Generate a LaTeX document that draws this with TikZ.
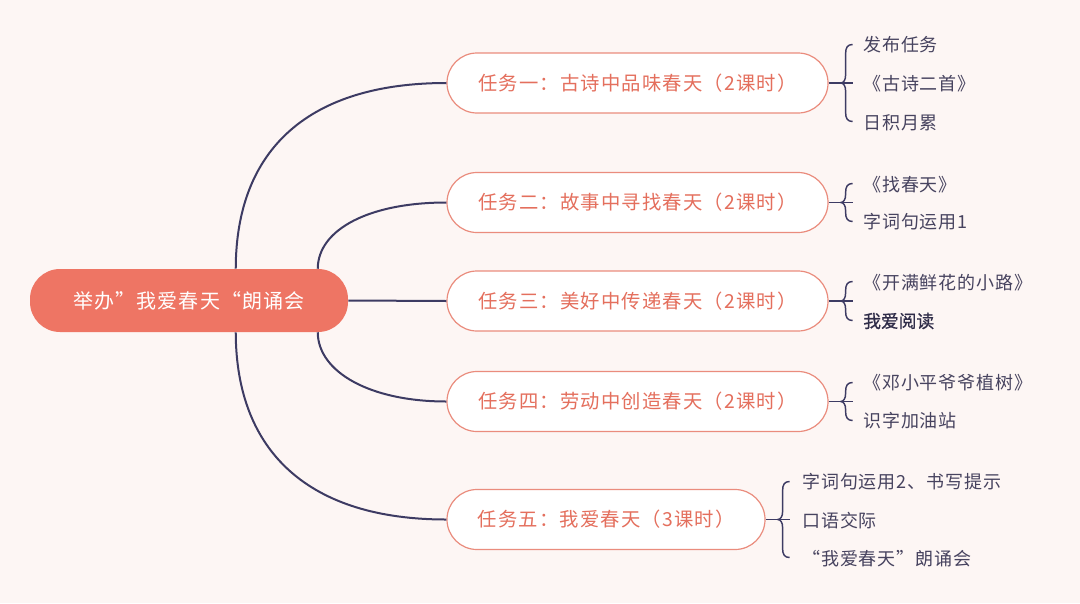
\documentclass[tikz,border=0pt]{standalone}
\usepackage{fontspec}
\usetikzlibrary{calc}
\newfontfamily\cjkroot[LetterSpace=6]{Noto Sans CJK SC}
\newfontfamily\cjktask[LetterSpace=6]{Noto Sans CJK SC}
\newfontfamily\cjkleaf[LetterSpace=5]{Noto Sans CJK SC}
\newfontfamily\cjkplain[FakeBold=0.8]{Noto Sans CJK SC}
\definecolor{bgc}{HTML}{FDF6F4}
\definecolor{rootc}{HTML}{EE7564}
\definecolor{taskborder}{HTML}{EA8C7D}
\definecolor{tasktext}{HTML}{E46F5D}
\definecolor{linkc}{HTML}{3D3B63}
\definecolor{leaftext}{HTML}{47435F}
\definecolor{leafdark}{HTML}{2F2C48}
\newcommand\mybrace[2]{%
  \draw[bracelink] (#1.east) -- ($(#1.east)+(24,0)$);
  \draw[bracelink] ($(#1.east)+(24,-#2)$) .. controls ($(#1.east)+(19,-#2)$) and ($(#1.east)+(17,-#2+3)$) .. ($(#1.east)+(17,-#2+9)$)
    -- ($(#1.east)+(17,-8)$) .. controls ($(#1.east)+(17,-3)$) and ($(#1.east)+(15,0)$) .. ($(#1.east)+(12,0)$)
    .. controls ($(#1.east)+(15,0)$) and ($(#1.east)+(17,3)$) .. ($(#1.east)+(17,8)$)
    -- ($(#1.east)+(17,#2-9)$) .. controls ($(#1.east)+(17,#2-3)$) and ($(#1.east)+(19,#2)$) .. ($(#1.east)+(24,#2)$);
}
\begin{document}
\begin{tikzpicture}[x=0.75pt,y=-0.75pt,
  rootbox/.style={fill=rootc, rounded corners=22.5pt, minimum width=238.5pt, minimum height=47.25pt, inner sep=0pt,
    text=white, font=\cjkroot\fontsize{15pt}{18pt}\selectfont},
  taskbox/.style={draw=taskborder, line width=0.9pt, fill=white, rounded corners=22.5pt, minimum width=285.75pt,
    minimum height=45pt, inner sep=0pt, text=tasktext, font=\cjktask\fontsize{14.5pt}{17pt}\selectfont},
  leaf/.style={anchor=west, inner sep=0pt, text=leaftext, font=\cjkleaf\fontsize{13.5pt}{16pt}\selectfont},
  link/.style={draw=linkc, line width=1.5pt},
  bracelink/.style={draw=linkc, line width=1.1pt, line join=round}
]
\fill[bgc] (0,0) rectangle (1080,603);
\useasboundingbox (0,0) rectangle (1080,603);

% root
\node[rootbox] (root) at (189,300.5) {举办”我爱春天“朗诵会};

% tasks
\node[taskbox] (t1) at (637.5,83) {任务一：古诗中品味春天（2课时）};
\node[taskbox] (t2) at (637.5,202.5) {任务二：故事中寻找春天（2课时）};
\node[taskbox] (t3) at (637.5,301) {任务三：美好中传递春天（2课时）};
\node[taskbox] (t4) at (637.5,401.5) {任务四：劳动中创造春天（2课时）};
\node[taskbox, minimum width=238.5pt] (t5) at (606,519.5) {任务五：我爱春天（3课时）};

% connection points on root
\coordinate (s1) at ($(root.north west)+(206,0)$);
\coordinate (s2) at ($(root.north west)+(288,0)$);
\coordinate (s4) at ($(root.south west)+(288,0)$);
\coordinate (s5) at ($(root.south west)+(206,0)$);

\draw[link] (s1) .. controls (236,148) and (310,83) .. (t1.west);
\draw[link] (s2) .. controls (318,229) and (370,202.5) .. (t2.west);
\draw[link] (root.east) -- (t3.west);
\draw[link] (s4) .. controls (318,372) and (370,401.5) .. (t4.west);
\draw[link] (s5) .. controls (236,453) and (310,519.5) .. (t5.west);

% braces
\mybrace{t1}{38.5}
\mybrace{t2}{19}
\mybrace{t3}{19.5}
\mybrace{t4}{19}
\mybrace{t5}{38}

% leaves
\node[leaf] (l11) at (863,45) {发布任务};
\node[leaf] (l12) at (863,84) {《古诗二首》};
\node[leaf] (l13) at (863,123) {日积月累};
\node[leaf] (l21) at (863,185) {《找春天》};
\node[leaf] (l22) at (863,222) {字词句运用1};
\node[leaf] (l31) at (863,283) {《开满鲜花的小路》};
\node[leaf, text=leafdark, font=\cjkplain\fontsize{13.3pt}{16pt}\selectfont] (l32) at (863,321) {我爱阅读};
\node[leaf] (l41) at (863,383) {《邓小平爷爷植树》};
\node[leaf] (l42) at (863,421) {识字加油站};
\node[leaf] (l51) at (802,482) {字词句运用2、书写提示};
\node[leaf] (l52) at (802,521) {口语交际};
\node[leaf] (l53) at (802,559) {“我爱春天”朗诵会};
\end{tikzpicture}
\end{document}
